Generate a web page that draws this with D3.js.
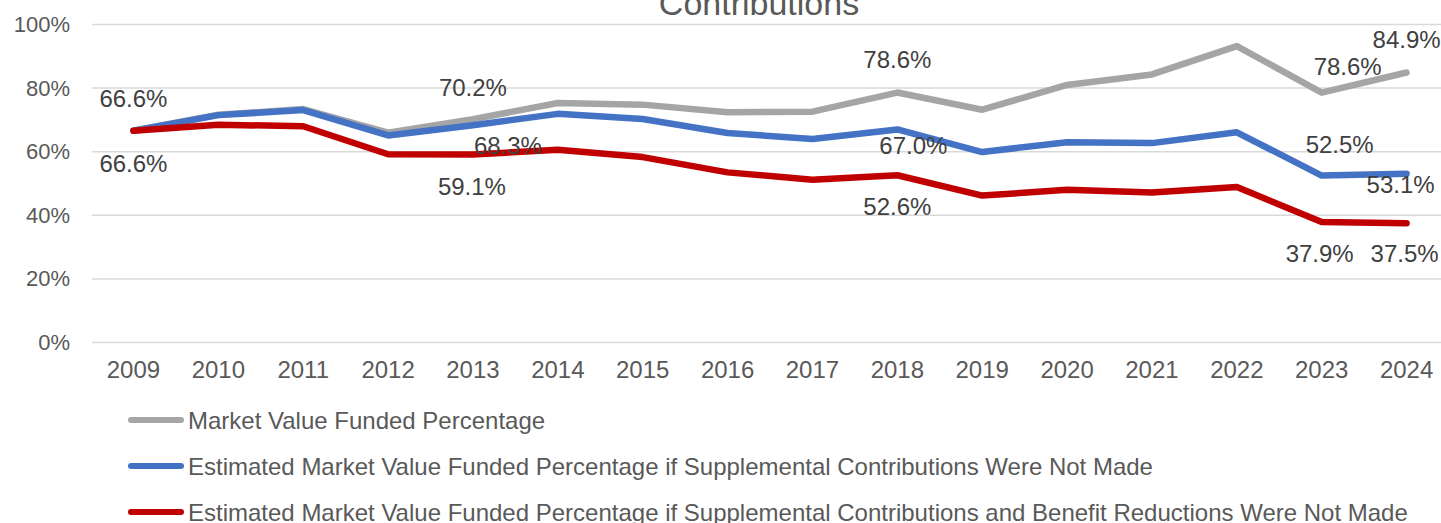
<!DOCTYPE html>
<html>
<head>
<meta charset="utf-8">
<script src="https://cdn.jsdelivr.net/npm/d3@7"></script>
<style>
  html, body { margin: 0; padding: 0; background: #fff; }
  svg { display: block; font-family: "Liberation Sans", Arial, sans-serif; }
</style>
</head>
<body>
<svg id="chart" width="1441" height="523"></svg>
<script>
// Data
const years = ['2009', '2010', '2011', '2012', '2013', '2014', '2015', '2016',
  '2017', '2018', '2019', '2020', '2021', '2022', '2023', '2024'];
const marketValue = [66.6, 71.6, 73.4, 66.0, 70.2, 75.3, 74.8, 72.4, 72.6, 78.6, 73.2, 81.0, 84.3, 93.2, 78.6, 84.9];
const noSupplemental = [66.6, 71.5, 73.1, 65.1, 68.3, 71.9, 70.3, 65.9, 64.0, 67.0, 59.9, 63.0, 62.7, 66.1, 52.5, 53.1];
const noSupplementalNoReductions = [66.6, 68.5, 68.0, 59.2, 59.1, 60.6, 58.3, 53.5, 51.2, 52.6, 46.2, 48.0, 47.2, 48.9, 37.9, 37.5];
const yTicks = [0, 20, 40, 60, 80, 100];
const seriesNames = [
  'Market Value Funded Percentage',
  'Estimated Market Value Funded Percentage if Supplemental Contributions Were Not Made',
  'Estimated Market Value Funded Percentage if Supplemental Contributions and Benefit Reductions Were Not Made'
];
const titleText = 'Contributions';

// which points carry a data label, with Excel-style placement offsets
const labelSpots = [
  { s: 0, i: 0, dx: 0, dy: -24 }, { s: 0, i: 4, dx: 0, dy: -23 }, { s: 0, i: 9, dx: 0, dy: -25 },
  { s: 0, i: 14, dx: 26, dy: -18 }, { s: 0, i: 15, dx: 0, dy: -25 },
  { s: 1, i: 4, dx: 35, dy: 29 }, { s: 1, i: 9, dx: 16, dy: 25 },
  { s: 1, i: 14, dx: 18, dy: -23 }, { s: 1, i: 15, dx: -6, dy: 19 },
  { s: 2, i: 0, dx: 0, dy: 41 }, { s: 2, i: 4, dx: -1, dy: 40 }, { s: 2, i: 9, dx: 0, dy: 40 },
  { s: 2, i: 14, dx: -2, dy: 40 }, { s: 2, i: 15, dx: -2, dy: 39 }
];

const series = [marketValue, noSupplemental, noSupplementalNoReductions];
const colors = ['#A5A5A5', '#4472C4', '#C00000'];

const svg = d3.select('#chart');
const plot = { left: 92, right: 1441, top: 24.5, bottom: 342.5 };

const x = d3.scaleBand().domain(years).range([91, 1449]).padding(0);
const y = d3.scaleLinear().domain([0, 100]).range([plot.bottom, plot.top]);
const cx = d => x(d) + x.bandwidth() / 2;

// Title (top line is cut off in the original)
svg.append('text')
  .attr('x', 759).attr('y', 15)
  .attr('text-anchor', 'middle')
  .attr('font-size', 34)
  .attr('fill', '#595959')
  .text(titleText);

// Gridlines
svg.append('g').selectAll('line')
  .data(yTicks)
  .enter().append('line')
  .attr('x1', plot.left).attr('x2', plot.right)
  .attr('y1', d => y(d)).attr('y2', d => y(d))
  .attr('stroke', '#D9D9D9')
  .attr('stroke-width', 1.5);

// Y axis labels
const yAxis = svg.append('g')
  .attr('transform', 'translate(70,0)')
  .call(d3.axisLeft(y).tickValues(yTicks).tickFormat(d => d + '%').tickSize(0).tickPadding(0));
yAxis.select('.domain').remove();
yAxis.selectAll('text')
  .attr('font-size', 22)
  .attr('font-family', '"Liberation Sans", Arial, sans-serif')
  .attr('fill', '#595959');

// X axis labels
const xAxis = svg.append('g')
  .attr('transform', `translate(0,${plot.bottom})`)
  .call(d3.axisBottom(x).tickSize(0).tickPadding(0));
xAxis.select('.domain').remove();
xAxis.selectAll('text')
  .attr('dy', null)
  .attr('y', 35.5)
  .attr('font-size', 24)
  .attr('font-family', '"Liberation Sans", Arial, sans-serif')
  .attr('fill', '#595959');

// Lines
const line = d3.line()
  .x((d, i) => cx(years[i]))
  .y(d => y(d));

series.forEach((vals, s) => {
  svg.append('path')
    .datum(vals)
    .attr('d', line)
    .attr('fill', 'none')
    .attr('stroke', colors[s])
    .attr('stroke-width', 6.5)
    .attr('stroke-linejoin', 'round')
    .attr('stroke-linecap', 'round');
});

// Data labels
svg.append('g').selectAll('text')
  .data(labelSpots)
  .enter().append('text')
  .attr('x', d => cx(years[d.i]) + d.dx)
  .attr('y', d => y(series[d.s][d.i]) + d.dy)
  .attr('text-anchor', 'middle')
  .attr('font-size', 24)
  .attr('fill', '#404040')
  .text(d => series[d.s][d.i].toFixed(1) + '%');

// Legend
const legend = svg.append('g').selectAll('g')
  .data(seriesNames)
  .enter().append('g')
  .attr('transform', (d, i) => `translate(0,${420 + i * 46})`);

legend.append('line')
  .attr('x1', 131).attr('x2', 181)
  .attr('y1', 0).attr('y2', 0)
  .attr('stroke', (d, i) => colors[i])
  .attr('stroke-width', 6)
  .attr('stroke-linecap', 'round');

legend.append('text')
  .attr('x', 188).attr('y', 8.5)
  .attr('font-size', 24)
  .attr('fill', '#595959')
  .text(d => d);
</script>
</body>
</html>
